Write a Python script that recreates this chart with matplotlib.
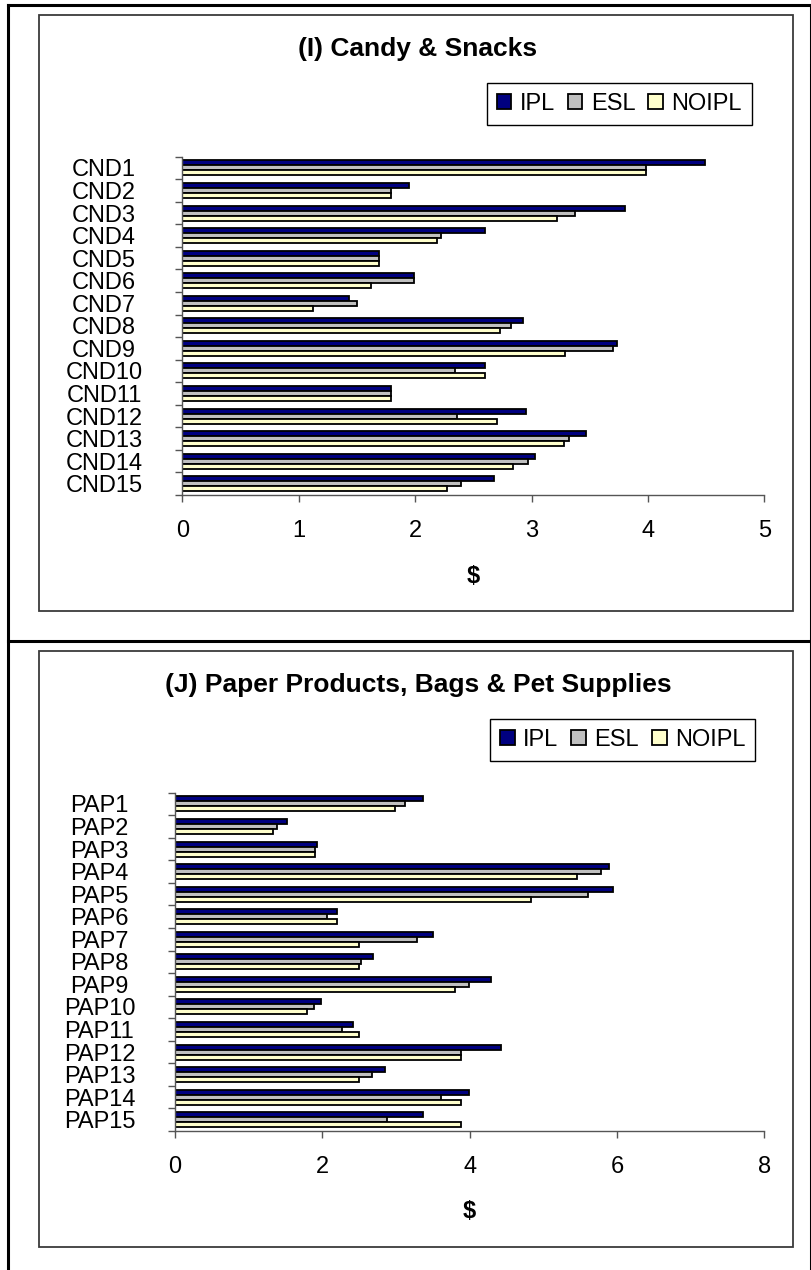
import numpy as np
import matplotlib
matplotlib.use("Agg")
import matplotlib.pyplot as plt
from matplotlib.patches import Rectangle
from matplotlib.lines import Line2D

# ---- data -------------------------------------------------------------
series_names = ["IPL", "ESL", "NOIPL"]
series_colors = ["#000080", "#C0C0C0", "#FFFFCC"]

cnd_labels = [f"CND{i}" for i in range(1, 16)]
cnd_ipl = [4.49, 1.95, 3.80, 2.60, 1.69, 1.99, 1.43, 2.93, 3.73, 2.60, 1.79, 2.95, 3.47, 3.03, 2.68]
cnd_esl = [3.98, 1.79, 3.37, 2.22, 1.69, 1.99, 1.50, 2.82, 3.70, 2.34, 1.79, 2.36, 3.32, 2.97, 2.39]
cnd_noipl = [3.98, 1.79, 3.22, 2.19, 1.69, 1.62, 1.12, 2.73, 3.29, 2.60, 1.79, 2.70, 3.28, 2.84, 2.27]
cnd_xticks = [0, 1, 2, 3, 4, 5]

pap_labels = [f"PAP{i}" for i in range(1, 16)]
pap_ipl = [3.37, 1.52, 1.93, 5.89, 5.95, 2.20, 3.50, 2.69, 4.29, 1.98, 2.42, 4.42, 2.85, 3.99, 3.37]
pap_esl = [3.12, 1.38, 1.90, 5.78, 5.61, 2.07, 3.28, 2.52, 3.99, 1.89, 2.27, 3.88, 2.68, 3.61, 2.88]
pap_noipl = [2.99, 1.33, 1.90, 5.46, 4.83, 2.20, 2.50, 2.50, 3.80, 1.79, 2.50, 3.88, 2.50, 3.88, 3.88]
pap_xticks = [0, 2, 4, 6, 8]

# ---- figure -----------------------------------------------------------
W, H = 812, 1270
plt.rcParams["font.family"] = ["Liberation Sans", "DejaVu Sans"]
fig = plt.figure(figsize=(W / 100, H / 100), dpi=100)

FS = 17        # tick / legend text (pt)
TFS = 19       # titles (pt)
AXIS_GREY = "#555555"


def rect(x0, y0, x1, y1):
    """pixel box (top-left origin) -> figure fraction [l, b, w, h]"""
    return [x0 / W, 1 - y1 / H, (x1 - x0) / W, (y1 - y0) / H]


# outer border and panel divider
for xs, ys in [((8, 8), (5, H)), ((8, W), (5, 5)), ((8, W), (641, 641)), ((811, 811), (5, H))]:
    fig.add_artist(Line2D([x / W for x in xs], [1 - y / H for y in ys],
                          color="black", lw=2.2, transform=fig.transFigure))

# chart-area frames
for box in [(39, 15, 792.7, 610.7), (39, 651, 792.7, 1246.5)]:
    l, b, w, h = rect(*box)
    fig.add_artist(Rectangle((l, b), w, h, fill=False, edgecolor="#3a3a3a",
                             lw=1.3, transform=fig.transFigure))


def panel(ax_box, labels, ipl, esl, noipl, xticks, title, title_xy,
          legend_xy, ylabel_x, xlabel_top):
    ax = fig.add_axes(rect(*ax_box))
    n = len(labels)
    y = np.arange(n)
    h = 0.222
    handles = []
    for k, (vals, col) in enumerate(zip([ipl, esl, noipl], series_colors)):
        bc = ax.barh(y + (k - 1) * h, vals, height=h, color=col,
                     edgecolor="black", linewidth=1.3, label=series_names[k])
        handles.append(bc)

    ax.set_xlim(xticks[0], xticks[-1])
    ax.set_ylim(n - 0.5, -0.5)
    ax.set_xticks(xticks)
    ax.set_xticklabels([str(t) for t in xticks], fontsize=FS)

    # category labels centred in a column left of the axis
    ax.set_yticks(y)
    ax.set_yticks(np.arange(n + 1) - 0.5, minor=True)
    pad_px = ax_box[0] - 7 - ylabel_x
    ax.set_yticklabels(labels, fontsize=FS, ha="center")
    ax.tick_params(axis="y", which="major", length=0, pad=pad_px * 0.72 + 5.04)
    ax.tick_params(axis="y", which="minor", length=5.04, width=1.0,
                   color=AXIS_GREY, direction="out")
    ax.tick_params(axis="x", length=5.04, width=1.0, color=AXIS_GREY,
                   direction="out", pad=13)

    for s in ["top", "right"]:
        ax.spines[s].set_visible(False)
    for s in ["left", "bottom"]:
        ax.spines[s].set_color(AXIS_GREY)
        ax.spines[s].set_linewidth(1.0)
    ax.set_facecolor("none")

    ax.set_xlabel("$", fontsize=FS, fontweight="bold")
    ax.xaxis.set_label_coords(0.5, 1 - (xlabel_top - ax_box[1]) / (ax_box[3] - ax_box[1]))

    fig.text(title_xy[0] / W, 1 - title_xy[1] / H, title, fontsize=TFS,
             fontweight="bold", ha="center", va="center")

    leg = ax.legend(handles, series_names, ncol=3, loc="upper left",
                    bbox_to_anchor=(legend_xy[0] / W, 1 - legend_xy[1] / H),
                    bbox_transform=fig.transFigure, borderaxespad=0,
                    fontsize=FS, frameon=True, fancybox=False,
                    edgecolor="black", framealpha=1, borderpad=0.42,
                    handlelength=0.62, handleheight=0.6, handletextpad=0.35,
                    columnspacing=0.55)
    leg.get_frame().set_linewidth(1.0)
    return ax


panel((182.5, 156.7, 764.3, 495.0), cnd_labels, cnd_ipl, cnd_esl, cnd_noipl,
      cnd_xticks, "(I) Candy & Snacks", (417.5, 49), (486.7, 82.7), 104, 565)

panel((175.0, 792.7, 764.3, 1131.0), pap_labels, pap_ipl, pap_esl, pap_noipl,
      pap_xticks, "(J) Paper Products, Bags & Pet Supplies", (418, 685),
      (490.4, 719), 99.5, 1200)

fig.savefig("out.png", dpi=100, facecolor="white")
